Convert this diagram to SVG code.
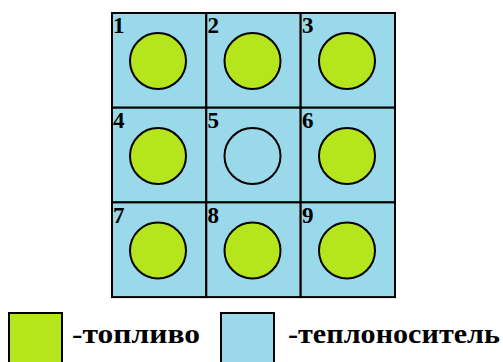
<svg xmlns="http://www.w3.org/2000/svg" width="503" height="362" viewBox="0 0 503 362">
<style>
.cell{fill:#99d9ea;stroke:#000;stroke-width:2}
.fuel{fill:#b5e61d;stroke:#000;stroke-width:2}
.empty{fill:#99d9ea;stroke:#000;stroke-width:2}
.num{font-family:"Liberation Serif",serif;font-weight:bold;font-size:23px;fill:#000}
.leg{font-family:"Liberation Serif","DejaVu Serif",serif;font-weight:bold;font-size:27px;fill:#000}
</style>
<rect width="503" height="362" fill="#fff"/>
<g id="c1"><rect class="cell" x="112" y="13" width="94.3" height="94.7"/><circle class="fuel" cx="158" cy="61" r="28"/><text class="num" x="113" y="33">1</text></g>
<g id="c2"><rect class="cell" x="206.3" y="13" width="94.3" height="94.7"/><circle class="fuel" cx="252.5" cy="61" r="28"/><text class="num" x="207.5" y="33">2</text></g>
<g id="c3"><rect class="cell" x="300.7" y="13" width="94.3" height="94.7"/><circle class="fuel" cx="347" cy="61" r="28"/><text class="num" x="302" y="33">3</text></g>
<g id="c4"><rect class="cell" x="112" y="107.7" width="94.3" height="94.7"/><circle class="fuel" cx="158" cy="156" r="28"/><text class="num" x="113" y="128">4</text></g>
<g id="c5"><rect class="cell" x="206.3" y="107.7" width="94.3" height="94.7"/><circle class="empty" cx="252.5" cy="156" r="28"/><text class="num" x="207.5" y="128">5</text></g>
<g id="c6"><rect class="cell" x="300.7" y="107.7" width="94.3" height="94.7"/><circle class="fuel" cx="347" cy="156" r="28"/><text class="num" x="302" y="128">6</text></g>
<g id="c7"><rect class="cell" x="112" y="202.4" width="94.3" height="94.7"/><circle class="fuel" cx="158" cy="250.5" r="28"/><text class="num" x="113" y="223">7</text></g>
<g id="c8"><rect class="cell" x="206.3" y="202.4" width="94.3" height="94.7"/><circle class="fuel" cx="252.5" cy="250.5" r="28"/><text class="num" x="207.5" y="223">8</text></g>
<g id="c9"><rect class="cell" x="300.7" y="202.4" width="94.3" height="94.7"/><circle class="fuel" cx="347" cy="250.5" r="28"/><text class="num" x="302" y="223">9</text></g>
<g id="legend-fuel"><rect class="fuel" x="9" y="313" width="53" height="52"/><text class="leg" x="72" y="343" textLength="128" lengthAdjust="spacingAndGlyphs">-топливо</text></g>
<g id="legend-coolant"><rect class="cell" x="221" y="313" width="53" height="52"/><text class="leg" x="288" y="343" textLength="212" lengthAdjust="spacingAndGlyphs">-теплоноситель</text></g>
<g id="connectors"></g>
</svg>
